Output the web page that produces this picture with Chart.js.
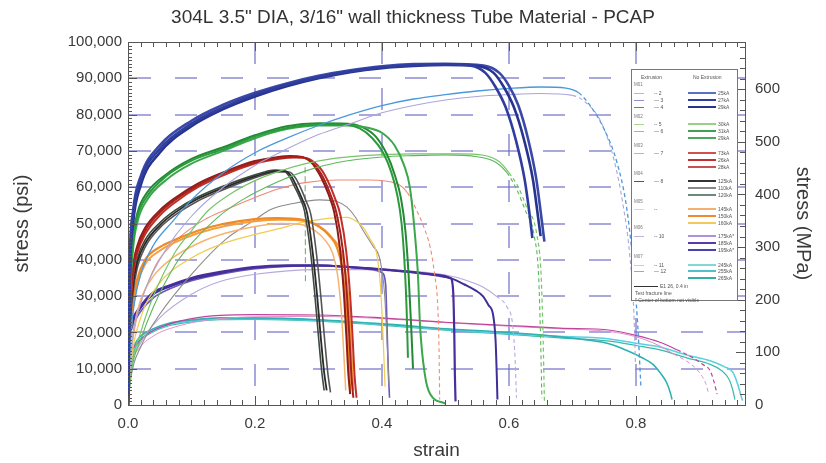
<!DOCTYPE html>
<html><head><meta charset="utf-8">
<script src="https://cdn.jsdelivr.net/npm/chart.js@4.4.1/dist/chart.umd.min.js"></script>
<style>
html,body{margin:0;padding:0;background:#fff;}
#wrap{position:relative;width:826px;height:463px;overflow:hidden;}
#legend{position:absolute;left:631px;top:69px;width:107px;height:232px;border:1px solid #777;background:#fff;font-family:"Liberation Sans",Arial,sans-serif;font-size:5px;color:#555;box-sizing:border-box;}
#legend div{position:absolute;white-space:nowrap;line-height:6px;}
</style></head><body>
<div id="wrap"><canvas id="c" width="826" height="463"></canvas><div id="legend"></div></div>
<script>
const TITLE = '304L 3.5" DIA, 3/16" wall thickness Tube Material - PCAP';
const X_MAX = 0.972;
const PSI_PER_MPA = 145.0377;

// ---- curves: [strain, stress psi] ----
const darkBlue1 = [[0,0],[0.003,38000],[0.008,52000],[0.02,62000],[0.05,70500],[0.1,77500],[0.15,82000],[0.2,85500],[0.25,88200],[0.3,90300],[0.35,91900],[0.4,93000],[0.45,93600],[0.5,93800],[0.54,93500],[0.563,91500],[0.579,87600],[0.595,82000],[0.611,73000],[0.625,62000],[0.633,52000],[0.637,46000]];
const darkBlue2 = [[0,0],[0.003,36000],[0.008,50000],[0.02,60500],[0.05,69500],[0.1,76800],[0.15,81500],[0.2,85000],[0.25,87800],[0.3,90000],[0.35,91700],[0.4,92800],[0.45,93400],[0.5,93700],[0.55,93400],[0.576,91500],[0.592,87600],[0.608,82000],[0.624,73000],[0.638,62000],[0.646,51800],[0.65,46500]];
const darkBlue3 = [[0,0],[0.003,40000],[0.008,53500],[0.02,63000],[0.05,71500],[0.1,78300],[0.15,82700],[0.2,86000],[0.25,88600],[0.3,90700],[0.35,92200],[0.4,93300],[0.45,93900],[0.5,94000],[0.56,93500],[0.585,91500],[0.6,88000],[0.615,82500],[0.63,73500],[0.643,62500],[0.651,52000],[0.656,45000]];
const lightBlue = [[0,0],[0.004,18000],[0.01,28000],[0.02,36000],[0.04,44000],[0.07,50500],[0.1,56500],[0.15,64000],[0.2,69500],[0.25,73500],[0.3,77000],[0.35,80000],[0.4,82500],[0.45,84300],[0.5,85500],[0.55,86500],[0.6,87200],[0.65,87600],[0.69,87300],[0.71,86000],[0.73,82000],[0.75,76000],[0.77,67000],[0.785,55000],[0.795,40000],[0.803,22000],[0.808,5000]];
const lavender = [[0,0],[0.005,15000],[0.02,28000],[0.05,40000],[0.1,52000],[0.15,60000],[0.2,66000],[0.25,70500],[0.3,74500],[0.35,77500],[0.4,80500],[0.45,82500],[0.5,84000],[0.55,85000],[0.6,85500],[0.65,85800],[0.7,85300],[0.72,83500],[0.745,78000],[0.765,68000],[0.78,55000],[0.79,42000],[0.797,25000],[0.8,8000]];
const green1 = [[0,0],[0.003,30000],[0.008,45000],[0.015,52000],[0.03,57500],[0.06,63000],[0.1,67300],[0.15,70500],[0.2,74000],[0.25,76300],[0.3,77300],[0.34,77200],[0.365,76200],[0.385,73500],[0.402,69500],[0.415,64000],[0.424,58000],[0.431,50000],[0.436,38000],[0.439,26000],[0.441,13000]];
const green2 = [[0,0],[0.003,28000],[0.008,43000],[0.015,50500],[0.03,56500],[0.06,62000],[0.1,66500],[0.15,70000],[0.2,73500],[0.25,76000],[0.3,77000],[0.35,77000],[0.38,76300],[0.4,75000],[0.42,71500],[0.435,66000],[0.444,60000],[0.452,47000],[0.457,35000],[0.46,22000],[0.468,8000],[0.476,3000],[0.5,400]];
const green3 = [[0,0],[0.003,32000],[0.008,46000],[0.015,53000],[0.03,58500],[0.06,63500],[0.1,67800],[0.15,71000],[0.2,74300],[0.25,76800],[0.3,77600],[0.345,77500],[0.37,76500],[0.39,74000],[0.408,69000],[0.42,63500],[0.43,57000],[0.437,48000],[0.442,36000],[0.446,22000],[0.449,10000]];
const lightGreen1 = [[0,0],[0.005,10000],[0.02,20000],[0.04,30000],[0.074,42000],[0.1,48000],[0.126,53500],[0.16,58000],[0.2,61800],[0.24,64500],[0.28,66500],[0.32,67800],[0.37,68700],[0.45,69200],[0.52,69200],[0.56,68800],[0.585,67000],[0.6,64000],[0.615,60000],[0.628,54500],[0.644,47000],[0.651,35000],[0.654,18000],[0.656,1000]];
const lightGreen2 = [[0,0],[0.005,9000],[0.02,18000],[0.04,27000],[0.074,38500],[0.1,44500],[0.14,51500],[0.18,56500],[0.236,61500],[0.28,64500],[0.33,66800],[0.4,68300],[0.45,68700],[0.5,68900],[0.55,68400],[0.58,66800],[0.597,64000],[0.612,59500],[0.625,54000],[0.64,46500],[0.647,35000],[0.65,18000],[0.652,2000]];
const red1 = [[0,0],[0.003,25000],[0.008,37000],[0.015,43000],[0.027,48000],[0.05,53000],[0.074,56500],[0.11,60500],[0.153,64000],[0.2,66800],[0.236,68000],[0.26,68300],[0.28,68000],[0.292,66500],[0.3,64800],[0.308,62500],[0.32,57500],[0.329,52500],[0.339,42000],[0.345,30000],[0.349,18000],[0.352,8000],[0.355,2000]];
const red2 = [[0,0],[0.003,23000],[0.008,35500],[0.015,42000],[0.027,47000],[0.05,52200],[0.074,55800],[0.11,60000],[0.153,63500],[0.2,66500],[0.236,67800],[0.265,68200],[0.285,67800],[0.297,66300],[0.306,64500],[0.314,62000],[0.326,57000],[0.335,52000],[0.344,42000],[0.35,30000],[0.354,18000],[0.357,8000],[0.36,2000]];
const red3 = [[0,0],[0.003,26000],[0.008,38000],[0.015,44000],[0.027,48800],[0.05,53600],[0.074,57000],[0.11,61000],[0.153,64300],[0.2,67200],[0.236,68300],[0.255,68600],[0.275,68300],[0.288,67000],[0.296,65200],[0.304,62800],[0.316,58000],[0.325,53000],[0.334,43000],[0.34,31000],[0.344,19000],[0.347,9000],[0.35,3000]];
const black1 = [[0,0],[0.003,22000],[0.008,33000],[0.015,39500],[0.027,44500],[0.05,49500],[0.074,53000],[0.11,56800],[0.153,60000],[0.2,63000],[0.236,64500],[0.248,64400],[0.258,62800],[0.266,60000],[0.275,56500],[0.282,53000],[0.291,42000],[0.298,30000],[0.304,18000],[0.309,9000],[0.313,4000]];
const black2 = [[0,0],[0.003,20000],[0.008,31000],[0.015,38000],[0.027,43500],[0.05,48800],[0.074,52300],[0.11,56200],[0.153,59500],[0.2,62600],[0.236,64200],[0.254,64200],[0.264,62500],[0.272,59800],[0.281,56000],[0.288,52500],[0.297,41500],[0.304,29500],[0.31,17500],[0.315,8500],[0.319,3500]];
const black3 = [[0,0],[0.003,23000],[0.008,34000],[0.015,40500],[0.027,45500],[0.05,50200],[0.074,53600],[0.11,57300],[0.153,60500],[0.2,63400],[0.232,64700],[0.244,64600],[0.254,63000],[0.262,60300],[0.271,57000],[0.278,53500],[0.287,43000],[0.294,31000],[0.3,19000],[0.305,9500],[0.309,4000]];
const orange1 = [[0,0],[0.003,18000],[0.008,29000],[0.015,35000],[0.027,40000],[0.05,43500],[0.074,45500],[0.11,48000],[0.153,50000],[0.2,51200],[0.236,51500],[0.276,51000],[0.302,49000],[0.318,46500],[0.329,43500],[0.337,38000],[0.343,28000],[0.347,15000],[0.35,4000]];
const orange2 = [[0,0],[0.003,16000],[0.008,27000],[0.015,33500],[0.027,38800],[0.05,42500],[0.074,44800],[0.11,47300],[0.153,49300],[0.2,50600],[0.24,51000],[0.28,50600],[0.306,48700],[0.322,46000],[0.334,43000],[0.342,37500],[0.348,27500],[0.352,15000],[0.355,4000]];
const orange3 = [[0,0],[0.004,13000],[0.01,22000],[0.02,29000],[0.04,35500],[0.07,40500],[0.11,44500],[0.153,47300],[0.2,49200],[0.24,50000],[0.27,49800],[0.295,48000],[0.31,45500],[0.322,42000],[0.33,36000],[0.336,26000],[0.34,14000],[0.343,4000]];
const yellow1 = [[0,0],[0.005,12000],[0.02,24000],[0.047,33000],[0.1,40500],[0.15,44500],[0.2,47000],[0.236,48500],[0.28,50500],[0.345,51700],[0.358,50800],[0.37,49000],[0.382,45500],[0.392,41500],[0.398,32000],[0.402,18000],[0.405,5000]];
const salmon1 = [[0,0],[0.004,12000],[0.015,25000],[0.03,33000],[0.047,39500],[0.08,46000],[0.12,51000],[0.153,53700],[0.205,57500],[0.236,59500],[0.276,61200],[0.33,62000],[0.38,62000],[0.423,61000],[0.44,58500],[0.455,53500],[0.466,49000],[0.476,43500],[0.483,36000],[0.488,27000],[0.49,15000],[0.491,1500]];
const gray1 = [[0,0],[0.005,8000],[0.02,16000],[0.05,25000],[0.1,36000],[0.153,45500],[0.2,51000],[0.224,53800],[0.26,55500],[0.302,56500],[0.33,56000],[0.345,54500],[0.358,51800],[0.37,48200],[0.385,44000],[0.397,40000],[0.404,31000],[0.408,18000],[0.411,6000]];
const purple1 = [[0,0],[0.002,18000],[0.006,23000],[0.019,27000],[0.04,31000],[0.066,33000],[0.1,35000],[0.15,36800],[0.197,38000],[0.25,38500],[0.3,38500],[0.35,38000],[0.407,37300],[0.45,36600],[0.49,35800],[0.508,35000],[0.512,32000],[0.514,20000],[0.515,8000],[0.516,1000]];
const purple2 = [[0,0],[0.002,17000],[0.006,22000],[0.019,26500],[0.04,30500],[0.066,32600],[0.1,34600],[0.15,36500],[0.197,37800],[0.25,38300],[0.3,38400],[0.35,38000],[0.407,37200],[0.45,36500],[0.49,35600],[0.51,34800],[0.53,33200],[0.548,31500],[0.559,30000],[0.568,27500],[0.575,25000],[0.579,18000],[0.581,8000],[0.582,1500]];
const purple3 = [[0,0],[0.002,16000],[0.006,21000],[0.019,25500],[0.04,29500],[0.066,32000],[0.1,34200],[0.15,36200],[0.197,37500],[0.25,38200],[0.3,38300],[0.35,37900],[0.385,37300],[0.4,36500],[0.406,33000],[0.408,22000],[0.41,10000],[0.412,2000]];
const lightPurple = [[0,0],[0.005,10000],[0.02,17000],[0.05,24000],[0.1,30500],[0.145,34000],[0.2,36000],[0.3,37300],[0.4,37300],[0.45,36800],[0.5,35800],[0.53,34500],[0.559,32500],[0.58,30000],[0.597,27000],[0.606,22000],[0.61,12000],[0.612,2000]];
const magenta1 = [[0,0],[0.003,12000],[0.01,16000],[0.03,19500],[0.06,22000],[0.1,23800],[0.145,24700],[0.2,24900],[0.3,24800],[0.4,24000],[0.5,22800],[0.6,21900],[0.68,21200],[0.76,20600],[0.8,19200],[0.838,17300],[0.865,15200],[0.89,13000],[0.905,11200],[0.917,9500],[0.923,6500],[0.928,3000]];
const pink2 = [[0,0],[0.004,10000],[0.015,15000],[0.04,19000],[0.08,21800],[0.13,23500],[0.2,24300],[0.3,24400],[0.4,23800],[0.5,22700],[0.6,21700],[0.68,21000],[0.76,20200],[0.8,18800],[0.835,16500],[0.86,14000],[0.885,11500],[0.9,9000],[0.91,6000],[0.915,3000]];
const teal1 = [[0,0],[0.003,12000],[0.01,16500],[0.019,18800],[0.04,21000],[0.066,22600],[0.1,23400],[0.145,24000],[0.2,24000],[0.3,23500],[0.428,22000],[0.5,21000],[0.57,20300],[0.638,19500],[0.68,18800],[0.72,18000],[0.759,16800],[0.786,15000],[0.81,13000],[0.827,11200],[0.84,8500],[0.849,6000],[0.855,3000],[0.857,1500]];
const cyan2 = [[0,0],[0.003,11000],[0.01,15500],[0.019,18000],[0.04,20500],[0.066,22200],[0.1,23100],[0.145,23700],[0.2,23800],[0.3,23300],[0.428,21800],[0.5,20800],[0.57,20000],[0.638,19300],[0.68,18900],[0.759,18200],[0.8,17000],[0.838,16000],[0.88,13800],[0.917,12200],[0.94,10500],[0.953,9000],[0.96,6000],[0.965,3000],[0.968,1200]];
const teal3 = [[0,0],[0.003,10500],[0.01,15000],[0.019,17600],[0.04,20200],[0.066,21900],[0.1,22900],[0.145,23500],[0.2,23600],[0.3,23100],[0.428,21600],[0.5,20600],[0.57,19800],[0.638,19000],[0.68,18500],[0.759,17600],[0.8,16400],[0.838,15200],[0.88,13000],[0.917,11200],[0.935,9500],[0.947,7000],[0.953,4000],[0.956,1500]];
const fractureLine = [[0.279,65500],[0.2795,34000]];

const series = [
  {name:'25kA', d:darkBlue1, c:'#2f3d9e', w:2.6},
  {name:'27kA', d:darkBlue2, c:'#27348f', w:2.6},
  {name:'29kA', d:darkBlue3, c:'#3a48a8', w:2.6},
  {name:'E-2', d:lightBlue, c:'#4a98dc', w:1.3, dashFrom:0.705},
  {name:'E-3', d:lavender, c:'#aaa6dc', w:1.1, dashFrom:0.7},
  {name:'30kA', d:green1, c:'#2a9a3c', w:2.0},
  {name:'31kA', d:green2, c:'#3aa84a', w:2.0},
  {name:'29kA g', d:green3, c:'#238a34', w:2.0},
  {name:'E-5', d:lightGreen1, c:'#78c46a', w:1.2, dashFrom:0.598},
  {name:'E-6', d:lightGreen2, c:'#5cb85c', w:1.1, dashFrom:0.595},
  {name:'73kA', d:red1, c:'#a8201c', w:2.0},
  {name:'26kA', d:red2, c:'#c03028', w:2.0},
  {name:'28kA', d:red3, c:'#8e1c18', w:2.0},
  {name:'125kA', d:black1, c:'#2a2a2a', w:1.8},
  {name:'110kA', d:black2, c:'#555555', w:1.6},
  {name:'120kA', d:black3, c:'#3d4a40', w:1.6},
  {name:'145kA', d:orange1, c:'#f08a24', w:2.2},
  {name:'150kA', d:orange2, c:'#f5a040', w:2.0},
  {name:'160kA', d:orange3, c:'#f6b470', w:1.5},
  {name:'E-9', d:yellow1, c:'#f0cc50', w:1.2},
  {name:'E-7', d:salmon1, c:'#f08a74', w:1.1, dashFrom:0.44},
  {name:'E-8', d:gray1, c:'#8c8c8c', w:1.1},
  {name:'185kA', d:purple1, c:'#4a2d9c', w:2.2},
  {name:'195kA', d:purple2, c:'#3f3098', w:2.0},
  {name:'175kA', d:purple3, c:'#6c58bc', w:1.6},
  {name:'E-10', d:lightPurple, c:'#b9a8dc', w:1.1, dashFrom:0.58},
  {name:'E-11', d:magenta1, c:'#c0449a', w:1.2, dashFrom:0.86},
  {name:'E-12', d:pink2, c:'#e090c8', w:1.0, dashFrom:0.86},
  {name:'245kA', d:teal1, c:'#2fb0b4', w:1.6},
  {name:'255kA', d:cyan2, c:'#5ad0e2', w:1.6},
  {name:'265kA', d:teal3, c:'#3cbaa8', w:1.2},
];

const datasets = series.map(s => ({
  label: s.name,
  data: s.d.map(p => ({x: p[0], y: p[1]})),
  borderColor: s.c,
  borderWidth: s.w,
  pointRadius: 0,
  fill: false,
  cubicInterpolationMode: 'monotone',
  segment: s.dashFrom !== undefined ? {borderDash: ctx => ctx.p0.parsed.x >= s.dashFrom ? [4,3] : undefined} : undefined
}));
datasets.push({label:'fracture', data: fractureLine.map(p=>({x:p[0],y:p[1]})), borderColor:'#7f9a78', borderWidth:1, pointRadius:0, tension:0, borderDash:[6,3]});

const innerTicks = {
  id:'innerTicks',
  afterDatasetsDraw(chart){
    const {ctx, chartArea:a, scales} = chart;
    const x = scales.x, y = scales.y, yR = scales.yR;
    ctx.save();
    ctx.strokeStyle = '#555'; ctx.lineWidth = 1;
    ctx.beginPath();
    for (let i = 0; i * 0.02 <= X_MAX + 1e-9; i++) {
      const px = Math.round(x.getPixelForValue(i * 0.02)) + 0.5;
      const L = i % 10 === 0 ? 9 : 5;
      ctx.moveTo(px, a.bottom); ctx.lineTo(px, a.bottom - L);
      ctx.moveTo(px, a.top); ctx.lineTo(px, a.top + L);
    }
    for (let v = 0; v <= 100000; v += 1000) {
      const py = Math.round(y.getPixelForValue(v)) + 0.5;
      const L = v % 10000 === 0 ? 9 : 4;
      ctx.moveTo(a.left, py); ctx.lineTo(a.left + L, py);
    }
    for (let v = 0; v <= yR.max; v += 20) {
      const py = Math.round(yR.getPixelForValue(v)) + 0.5;
      const L = v % 100 === 0 ? 9 : 5;
      ctx.moveTo(a.right, py); ctx.lineTo(a.right - L, py);
    }
    ctx.stroke();
    ctx.restore();
  }
};

Chart.defaults.font.family = '"Liberation Sans", Arial, sans-serif';
Chart.defaults.color = '#3a3a3a';
const gridColor = 'rgba(110,110,200,0.6)';

new Chart(document.getElementById('c'), {
  type: 'line',
  data: {datasets},
  options: {
    responsive: false, animation: false, devicePixelRatio: 1,
    layout: {padding: 0},
    plugins: {
      legend: {display: false}, tooltip: {enabled: false},
      title: {display: true, text: TITLE, font: {size: 19, weight: 'normal'}, color: '#333', padding: {top: 6.6, bottom: 0}}
    },
    scales: {
      x: {type: 'linear', position: 'bottom', min: 0, max: X_MAX,
        ticks: {stepSize: 0.2, includeBounds: false, padding: 10, font: {size: 15}, callback: v => Number(v).toFixed(1)},
        grid: {color: c => (c.tick && c.tick.value > 0.01) ? gridColor : 'rgba(0,0,0,0)', lineWidth: 2, drawTicks: false},
        border: {display: true, color: '#555', width: 1, dash: [22, 24]},
        title: {display: true, text: 'strain', font: {size: 19}, padding: {top: 0, bottom: 1}},
        afterFit: s => { s.height = 58; }},
      xTop: {type: 'linear', position: 'top', min: 0, max: X_MAX,
        ticks: {display: false}, grid: {display: false, drawTicks: false},
        border: {display: true, color: '#555'},
        afterFit: s => { s.height = 12.6; }},
      y: {type: 'linear', position: 'left', min: 0, max: 100000,
        ticks: {stepSize: 10000, padding: 6, font: {size: 15}, callback: v => Number(v).toLocaleString('en-US')},
        grid: {color: c => (c.tick && c.tick.value > 0 && c.tick.value < 100000) ? gridColor : 'rgba(0,0,0,0)', lineWidth: 2, drawTicks: false},
        border: {display: true, color: '#555', dash: [22, 24]},
        title: {display: true, text: 'stress (psi)', font: {size: 20}, padding: {top: 10, bottom: 0}},
        afterFit: s => { s.width = 128; }},
      yR: {type: 'linear', position: 'right', min: 0, max: 100000 / PSI_PER_MPA,
        ticks: {stepSize: 100, includeBounds: false, padding: 10, font: {size: 15}},
        grid: {display: false, drawTicks: false},
        border: {display: true, color: '#555'},
        title: {display: true, text: 'stress (MPa)', font: {size: 20}, padding: {top: 11, bottom: 0}},
        afterFit: s => { s.width = 81; }}
    }
  },
  plugins: [innerTicks]
});

// ---- legend (text block drawn as HTML) ----
const legendHeaders = [['Extrusion', 9, 4], ['No Extrusion', 61, 4]];
const legendGroups = [['M01', 12], ['M02', 44], ['M03', 73], ['M04', 101], ['M05', 129], ['M06', 155], ['M07', 184]];
const legendRows = [
  [20,'#b8b4e4','-- 2','#5b6fc4','25kA'],[27,'#8a92d0','— 3','#3040a0','27kA'],[34,'#6a70c0','— 4','#2a3488','29kA'],
  [51,'#a8d890','-- 5','#98d088','30kA'],[58,'#88c880','— 6','#40a050','31kA'],[65,null,'','#50a860','29kA'],
  [80,'#f0a090','— 7','#d05050','73kA'],[87,null,'','#c03030','26kA'],[94,null,'','#c85050','28kA'],
  [108,'#555555','— 8','#333333','125kA'],[115,null,'','#888888','110kA'],[122,null,'','#6a8a7a','120kA'],
  [136,'#e8e070','--','#f4b070','145kA'],[143,null,'','#f08a30','150kA'],[150,null,'','#f4c860','160kA'],
  [163,'#c0b0e0','-- 10','#b090d8','175kA*'],[170,null,'','#5a3aa8','185kA'],[177,null,'','#4a40b0','195kA*'],
  [192,'#a0e0e0','-- 11','#80d8d8','245kA'],[198,'#70c0c0','— 12','#50c0d0','255kA'],[205,null,'','#30b0a0','265kA']
];
const legendNotes = [[213,'E1 26, 0.4 in',true],[220,'Test fracture line',false],[227,'* Center of bottom not visible',false]];
const lg = document.getElementById('legend');
function add(html, css){ const d=document.createElement('div'); d.style.cssText=css; d.textContent=html; lg.appendChild(d); return d; }
legendHeaders.forEach(h => add(h[0], `left:${h[1]}px;top:${h[2]}px;`));
legendGroups.forEach(g => add(g[0], `left:2px;top:${g[1]}px;font-size:4.5px;color:#777;`));
legendRows.forEach(r => {
  const y = r[0];
  if (r[1]) add('', `left:2px;top:${y+3}px;width:10px;border-top:1px solid ${r[1]};height:0;`);
  if (r[2]) add(r[2], `left:22px;top:${y}px;`);
  add('', `left:56px;top:${y+2}px;width:28px;border-top:2px solid ${r[3]};height:0;`);
  add(r[4], `left:86px;top:${y}px;`);
});
legendNotes.forEach(n => {
  if (n[2]) { add('', `left:2px;top:${n[0]+3}px;width:24px;border-top:1px solid #333;height:0;`); add(n[1], `left:28px;top:${n[0]}px;`); }
  else add(n[1], `left:3px;top:${n[0]}px;`);
});
</script></body></html>
